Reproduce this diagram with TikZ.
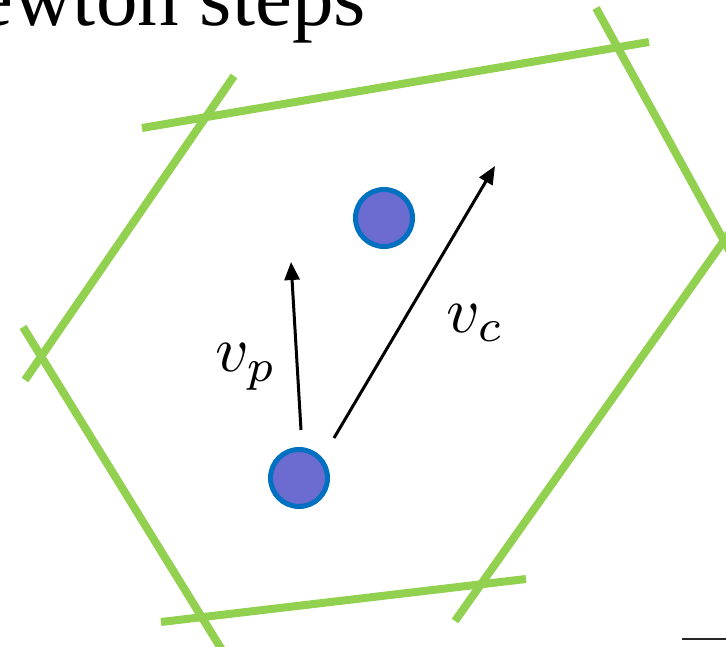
\documentclass[tikz,border=0pt]{standalone}
\usepackage{fontspec}
\usetikzlibrary{arrows.meta}
\newfontfamily\titlefont{Liberation Serif}
\definecolor{edgegreen}{HTML}{92D050}
\definecolor{ballfill}{HTML}{6B6BD0}
\definecolor{ballrim}{HTML}{0070C0}
\begin{document}
\begin{tikzpicture}[x=1pt,y=-1pt,
  edge/.style={edgegreen,line width=8pt},
  ball/.style={circle,draw=ballrim,fill=ballfill,line width=5pt,minimum size=57pt,inner sep=0pt},
  vec/.style={black,line width=3pt,-{Stealth[length=18pt,width=15pt,inset=0pt]}},
  lbl/.style={inner sep=0pt}]
\useasboundingbox (0,0) rectangle (726,647);
\clip (0,0) rectangle (726,647);
% title (cropped at the top-left, as in the reference)
\node[anchor=base east,inner sep=0pt,font=\titlefont\fontsize{83}{83}\selectfont] (title) at (366,26) {Newton steps};
% hexagon edges
\coordinate (t1) at (142,128); \coordinate (t2) at (649,42);
\coordinate (ul1) at (234,76); \coordinate (ul2) at (25,380);
\coordinate (ll1) at (23,327); \coordinate (ll2) at (222,650);
\coordinate (b1) at (161,622); \coordinate (b2) at (526,579);
\coordinate (lr1) at (455,621); \coordinate (lr2) at (740,218);
\coordinate (ur1) at (596,8); \coordinate (ur2) at (740,270);
\draw[edge] (t1) -- (t2);
\draw[edge] (ul1) -- (ul2);
\draw[edge] (ll1) -- (ll2);
\draw[edge] (b1) -- (b2);
\draw[edge] (lr1) -- (lr2);
\draw[edge] (ur1) -- (ur2);
% balls
\node[ball] (cur) at (299,478) {};
\node[ball] (nxt) at (384,218) {};
% vectors
\coordinate (vps) at (301,430); \coordinate (vpe) at (291,262);
\coordinate (vcs) at (334,438); \coordinate (vce) at (495,166);
\draw[vec] (vps) -- (vpe);
\draw[vec] (vcs) -- (vce);
\node[lbl] (vp) at (246,367) {\scalebox{6.5}{$v_p$}};
\node[lbl] (vc) at (475,323) {\scalebox{6.5}{$v_c$}};
% bottom-right rule
\coordinate (r1) at (682,639); \coordinate (r2) at (727,639);
\draw[line width=2pt,black!85] (r1) -- (r2);
\end{tikzpicture}
\end{document}
